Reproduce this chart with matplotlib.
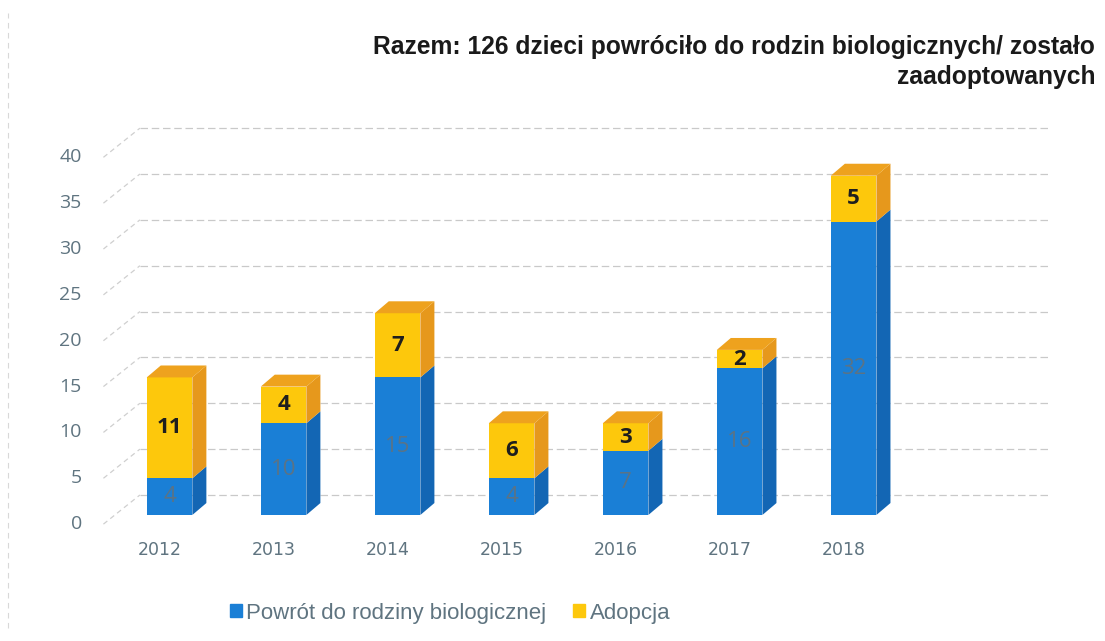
import matplotlib.pyplot as plt
from matplotlib.patches import Polygon, Rectangle

years = ['2012', '2013', '2014', '2015', '2016', '2017', '2018']
powrot = [4, 10, 15, 4, 7, 16, 32]
adopcja = [11, 4, 7, 6, 3, 2, 5]
yticks = [0, 5, 10, 15, 20, 25, 30, 35, 40]

title = 'Razem: 126 dzieci powróciło do rodzin biologicznych/ zostało\nzaadoptowanych'
legend_labels = ['Powrót do rodziny biologicznej', 'Adopcja']

blue_front = '#1a7fd6'
blue_side = '#1366b4'
yel_front = '#fdc80c'
yel_side = '#e6981c'
yel_top = '#eea21e'
grey_txt = '#5f7480'

plt.rcParams['font.family'] = ['Liberation Sans', 'DejaVu Sans']

fig = plt.figure(figsize=(11.05, 6.41), dpi=100)
ax = fig.add_axes([100 / 1105, 101 / 641, 960 / 1105, 420 / 641])
ax.set_xlim(-0.61, 7.81)
ax.set_ylim(-2.73, 43.07)
ax.axis('off')

w = 0.40     # front width
dx = 0.123   # bar depth (x)
dy = 1.3     # bar depth (y)
wall_dy = 2.18
lab_off = -1.0

# back wall grid and left wall diagonals
for v in yticks:
    ax.plot([-0.26, 7.72], [v + wall_dy, v + wall_dy], color='#c9c9c9',
            lw=0.9, ls=(0, (6, 3)), zorder=1)
    ax.plot([-0.58, -0.26], [v + lab_off, v + wall_dy], color='#cfcfcf',
            lw=0.9, ls=(0, (4, 3)), zorder=1)
    ax.text(-0.77, v + lab_off, str(v), ha='right', va='center',
            fontsize=14, color=grey_txt, clip_on=False,
            family=['Open Sans', 'DejaVu Sans'])


def box(x0, y0, y1, front, side, top=None):
    x1 = x0 + w
    ax.add_patch(Rectangle((x0, y0), w, y1 - y0, facecolor=front,
                           edgecolor='none', zorder=3))
    ax.add_patch(Polygon([(x1, y0), (x1 + dx, y0 + dy), (x1 + dx, y1 + dy),
                          (x1, y1)], closed=True, facecolor=side,
                         edgecolor='none', zorder=3))
    if top is not None:
        ax.add_patch(Polygon([(x0, y1), (x0 + dx, y1 + dy), (x1 + dx, y1 + dy),
                              (x1, y1)], closed=True, facecolor=top,
                             edgecolor='none', zorder=3))


for i, (b, a) in enumerate(zip(powrot, adopcja)):
    x0 = i - w / 2
    box(x0, 0, b, blue_front, blue_side)
    box(x0, b, b + a, yel_front, yel_side, yel_top)
    ax.text(i, b / 2, str(b), ha='center', va='center', fontsize=16,
            color='#5b7385', zorder=4, family=['Open Sans', 'DejaVu Sans'])
    ax.text(i, b + a / 2, str(a), ha='center', va='center', fontsize=16,
            fontweight='bold', color='#1e1e1e', zorder=4,
            family=['Open Sans', 'DejaVu Sans'])
    ax.text(i - 0.09, -3.85, years[i], ha='center', va='center', fontsize=12.5,
            color=grey_txt, clip_on=False,
            family=['Liberation Sans Narrow', 'DejaVu Sans Condensed', 'DejaVu Sans'])

fig.text(1095 / 1105, 1 - 62 / 641, title, ha='right', va='center',
         fontsize=17.7, fontweight='bold', color='#1a1a1a', linespacing=1.3)

# legend
handles = [Rectangle((0, 0), 1, 1, color=blue_front),
           Rectangle((0, 0), 1, 1, color=yel_front)]
leg = fig.legend(handles, legend_labels, loc='center', ncol=2,
                 bbox_to_anchor=(450 / 1105, 1 - 613 / 641), frameon=False,
                 fontsize=16, handlelength=0.55, handleheight=0.55,
                 handletextpad=0.2, columnspacing=1.2)
for t in leg.get_texts():
    t.set_color(grey_txt)

# faint page border
fig.add_artist(plt.Line2D([8 / 1105, 8 / 1105], [0.02, 0.98], color='#d8d8d8',
                          lw=0.8, ls=(0, (5, 4))))

fig.savefig('out.png', dpi=100)
